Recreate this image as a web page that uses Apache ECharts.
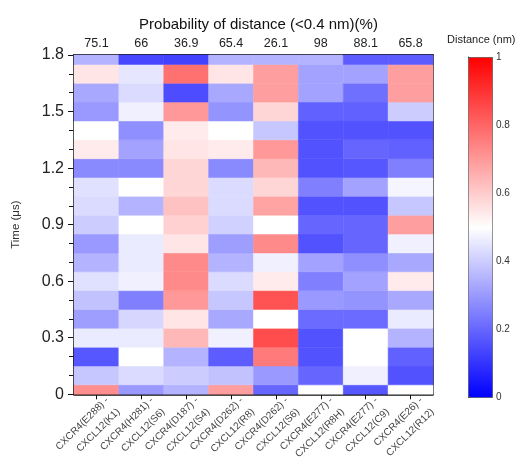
<!DOCTYPE html>
<html>
<head>
<meta charset="utf-8">
<title>CXCR4–CXCL12 contact distances</title>
<script src="https://cdn.jsdelivr.net/npm/echarts@6/dist/echarts.min.js"></script>
<style>
  html, body { margin: 0; padding: 0; background: #fff; }
  #chart { width: 525px; height: 468px; }
</style>
</head>
<body>
<div id="chart"></div>
<script>
// Residue pairs (receptor side / chemokine side)
const receptorSites = ['CXCR4(E288) -', 'CXCR4(H281) -', 'CXCR4(D187) -', 'CXCR4(D262) -',
                       'CXCR4(D262) -', 'CXCR4(E277) -', 'CXCR4(E277) -', 'CXCR4(E26) -'];
const ligandSites = ['CXCL12(K1)', 'CXCL12(S6)', 'CXCL12(S4)', 'CXCL12(R8)',
                     'CXCL12(S6)', 'CXCL12(R8H)', 'CXCL12(C9)', 'CXCL12(R12)'];

// Probability of distance < 0.4 nm (%) for each pair
const probabilities = ['75.1', '66', '36.9', '65.4', '26.1', '98', '88.1', '65.8'];

// Sampling times (µs)
const times = [0, 0.1, 0.2, 0.3, 0.4, 0.5, 0.6, 0.7, 0.8, 0.9,
               1.0, 1.1, 1.2, 1.3, 1.4, 1.5, 1.6, 1.7, 1.8];

// Minimum distance (nm) per pair, one value per sampling time
const distE288K1  = [0.72, 0.39, 0.17, 0.46, 0.31, 0.38, 0.44, 0.35, 0.30, 0.40, 0.43, 0.44, 0.27, 0.54, 0.50, 0.30, 0.33, 0.55, 0.35];
const distH281S6  = [0.30, 0.43, 0.50, 0.46, 0.42, 0.25, 0.47, 0.46, 0.46, 0.50, 0.35, 0.50, 0.27, 0.32, 0.28, 0.47, 0.43, 0.45, 0.14];
const distD187S4  = [0.35, 0.40, 0.35, 0.64, 0.55, 0.70, 0.73, 0.73, 0.55, 0.59, 0.62, 0.58, 0.58, 0.55, 0.54, 0.70, 0.15, 0.78, 0.13];
const distD262R8  = [0.69, 0.38, 0.18, 0.47, 0.33, 0.39, 0.43, 0.35, 0.31, 0.41, 0.43, 0.43, 0.27, 0.54, 0.50, 0.29, 0.33, 0.55, 0.35];
const distD262S6  = [0.20, 0.30, 0.76, 0.85, 0.50, 0.84, 0.54, 0.47, 0.73, 0.50, 0.68, 0.58, 0.64, 0.70, 0.39, 0.58, 0.69, 0.69, 0.35];
const distE277R8H = [0.50, 0.20, 0.16, 0.16, 0.21, 0.30, 0.25, 0.32, 0.16, 0.20, 0.16, 0.25, 0.16, 0.16, 0.16, 0.19, 0.32, 0.32, 0.35];
const distE277C9  = [0.17, 0.47, 0.50, 0.50, 0.21, 0.29, 0.32, 0.28, 0.20, 0.20, 0.16, 0.32, 0.17, 0.20, 0.16, 0.19, 0.22, 0.32, 0.18];
const distE26R12  = [0.50, 0.16, 0.19, 0.35, 0.46, 0.33, 0.54, 0.33, 0.47, 0.69, 0.39, 0.48, 0.25, 0.19, 0.16, 0.40, 0.69, 0.69, 0.18];

const distanceColumns = [distE288K1, distH281S6, distD187S4, distD262R8,
                         distD262S6, distE277R8H, distE277C9, distE26R12];

const pairLabels = receptorSites.map((r, i) => r + '\n' + ligandSites[i]);

// [pair index, time, distance]
const cells = [];
distanceColumns.forEach((col, i) => {
  col.forEach((d, j) => cells.push([i, times[j], d]));
});

const FONT = '"Liberation Sans", Arial, sans-serif';
const TIME_STEP = 0.1;

function renderCell(params, api) {
  const center = api.coord([api.value(0), api.value(1)]);
  const w = api.size([1, 0])[0];
  const h = api.size([0, TIME_STEP])[1];
  const rect = echarts.graphic.clipRectByRect(
    { x: center[0] - w / 2, y: center[1] - h / 2, width: w, height: h },
    { x: params.coordSys.x, y: params.coordSys.y,
      width: params.coordSys.width, height: params.coordSys.height }
  );
  if (!rect) return null;
  return {
    type: 'rect',
    shape: rect,
    style: { fill: api.visual('color'), stroke: api.visual('color'), lineWidth: 0.5 }
  };
}

const chart = echarts.init(document.getElementById('chart'), null, { renderer: 'canvas' });

chart.setOption({
  animation: false,
  backgroundColor: '#fff',
  textStyle: { fontFamily: FONT },
  title: {
    text: 'Probability of distance (<0.4 nm)(%)',
    left: 253.5,
    top: 12,
    textAlign: 'center',
    textStyle: { fontFamily: FONT, fontSize: 15, fontWeight: 'normal', color: '#111' }
  },
  grid: [
    { left: 74, top: 55, right: 92, bottom: 68, show: true,
      borderColor: '#111', borderWidth: 1.5, backgroundColor: 'transparent' },
    { left: 468, top: 57, width: 24, height: 340, show: false }
  ],
  xAxis: [
    {
      gridIndex: 0, type: 'category', data: pairLabels, position: 'bottom',
      axisLine: { show: true, lineStyle: { color: '#111', width: 1.5 } },
      axisTick: { show: true, alignWithLabel: true, interval: 0, length: 5, lineStyle: { color: '#111' } },
      axisLabel: { interval: 0, hideOverlap: false, rotate: 45, fontSize: 10, color: '#444', margin: 4,
                   align: 'right', verticalAlign: 'top', lineHeight: 16,
                   padding: [0, -7, 0, 0], fontFamily: FONT },
      splitLine: { show: false }
    },
    {
      gridIndex: 0, type: 'category', data: probabilities, position: 'top',
      axisLine: { show: true, lineStyle: { color: '#111', width: 1.5 } },
      axisTick: { show: false },
      axisLabel: { interval: 0, fontSize: 12.5, color: '#222', margin: 5, fontFamily: FONT },
      splitLine: { show: false }
    },
    { gridIndex: 1, type: 'value', show: false, min: 0, max: 1 }
  ],
  yAxis: [
    {
      gridIndex: 0, type: 'value', min: 0, max: 1.8, interval: 0.3,
      name: 'Time (\u03bcs)', nameLocation: 'middle', nameGap: 52, nameRotate: 90,
      nameTextStyle: { fontSize: 11.5, color: '#333', fontFamily: FONT },
      axisLine: { show: true, lineStyle: { color: '#111', width: 1.5 } },
      axisTick: { show: true, length: 6, lineStyle: { color: '#111' } },
      minorTick: { show: true, splitNumber: 3, length: 5, lineStyle: { color: '#111' } },
      axisLabel: { fontSize: 16, color: '#222', margin: 10, fontFamily: FONT },
      splitLine: { show: false }
    },
    {
      gridIndex: 1, type: 'value', min: 0, max: 1, interval: 0.2, position: 'right',
      axisLine: { show: true, lineStyle: { color: '#444', width: 1 } },
      axisTick: { show: true, length: 4, lineStyle: { color: '#444' } },
      axisLabel: { fontSize: 10, color: '#333', margin: 4, fontFamily: FONT },
      splitLine: { show: false }
    }
  ],
  visualMap: {
    type: 'continuous',
    min: 0, max: 1,
    dimension: 2,
    seriesIndex: 0,
    calculable: false,
    orient: 'vertical',
    left: 468, top: 57,
    itemWidth: 24, itemHeight: 340,
    padding: 0,
    text: null,
    showLabel: false,
    borderColor: '#555', borderWidth: 1,
    inRange: { color: ['#0000ff', '#ffffff', '#ff0000'] }
  },
  graphic: [
    { type: 'text', left: 447, top: 34,
      style: { text: 'Distance (nm)', fontSize: 11, fill: '#222', fontFamily: FONT } }
  ],
  series: [
    {
      type: 'custom',
      xAxisIndex: 0, yAxisIndex: 0,
      renderItem: renderCell,
      encode: { x: 0, y: 1 },
      data: cells,
      z: 1
    }
  ]
});
</script>
</body>
</html>
